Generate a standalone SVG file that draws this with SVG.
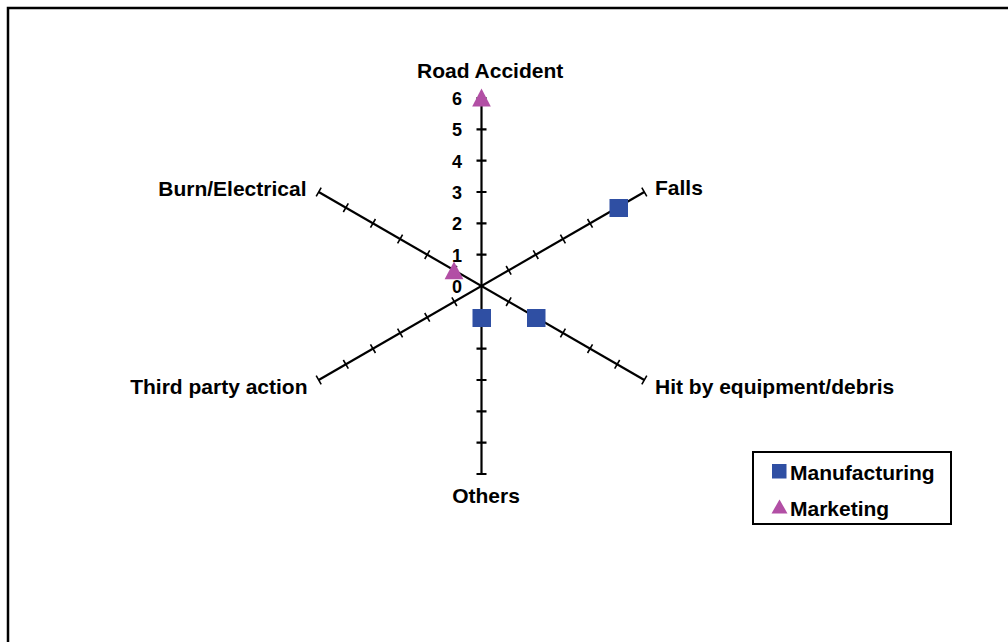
<svg xmlns="http://www.w3.org/2000/svg" width="1008" height="642" viewBox="0 0 1008 642">
<style>
.lbl{font-family:"Liberation Sans",Arial,sans-serif;font-weight:bold;font-size:21px;fill:#000}
.num{font-family:"Liberation Sans",Arial,sans-serif;font-weight:bold;font-size:18px;fill:#000;text-anchor:end}
.ax{stroke:#000;stroke-width:2.2;fill:none}
.tk{stroke:#000;stroke-width:1.6;fill:none}
.mfg{fill:#2F4FA3}
.mkt{fill:#B24FA5}
</style>
<rect x="0" y="0" width="1008" height="642" fill="#fff"/>
<rect x="8" y="8" width="1010" height="650" fill="none" stroke="#000" stroke-width="2.5"/>
<g id="axes">
<line class="ax" x1="481.5" y1="98" x2="481.5" y2="474"/>
<line class="ax" x1="318.69" y1="192" x2="644.31" y2="380"/>
<line class="ax" x1="318.69" y1="380" x2="644.31" y2="192"/>
</g>
<g id="ticks">
<path class="ax" d="M476.5 254.67h10M476.5 223.33h10M476.5 192h10M476.5 160.67h10M476.5 129.33h10M476.5 98h10M476.5 317.33h10M476.5 348.67h10M476.5 380h10M476.5 411.33h10M476.5 442.67h10M476.5 474h10"/>
<path class="tk" d="M506.14 266l5 8.66M533.27 250.34l5 8.66M560.41 234.67l5 8.66M587.54 219l5 8.66M614.68 203.34l5 8.66M641.81 187.67l5 8.66"/>
<path class="tk" d="M506.14 306l5 -8.66M533.27 321.66l5 -8.66M560.41 337.33l5 -8.66M587.54 353l5 -8.66M614.68 368.66l5 -8.66M641.81 384.33l5 -8.66"/>
<path class="tk" d="M451.86 297.34l5 8.66M424.73 313l5 8.66M397.59 328.67l5 8.66M370.46 344.34l5 8.66M343.32 360l5 8.66M316.19 375.67l5 8.66"/>
<path class="tk" d="M451.86 274.66l5 -8.66M424.73 259l5 -8.66M397.59 243.33l5 -8.66M370.46 227.66l5 -8.66M343.32 212l5 -8.66M316.19 196.33l5 -8.66"/>
</g>
<g id="scale">
<text class="num" x="462" y="105">6</text>
<text class="num" x="462" y="136.3">5</text>
<text class="num" x="462" y="167.7">4</text>
<text class="num" x="462" y="199">3</text>
<text class="num" x="462" y="230.3">2</text>
<text class="num" x="462" y="261.7">1</text>
<text class="num" x="462" y="293">0</text>
</g>
<g id="axis-labels">
<text class="lbl" id="road" x="417" y="78">Road Accident</text>
<text class="lbl" id="falls" x="655" y="195">Falls</text>
<text class="lbl" id="hit" x="655" y="393.5">Hit by equipment/debris</text>
<text class="lbl" id="others" x="486" y="503" text-anchor="middle">Others</text>
<text class="lbl" id="third" x="307.5" y="394" text-anchor="end">Third party action</text>
<text class="lbl" id="burn" x="306.5" y="196" text-anchor="end">Burn/Electrical</text>
</g>
<g id="series-manufacturing">
<rect class="mfg" x="609.5" y="199" width="18.5" height="18"/>
<rect class="mfg" x="527" y="309" width="18.5" height="18"/>
<rect class="mfg" x="472.5" y="309" width="18.5" height="18"/>
</g>
<g id="series-marketing">
<polygon class="mkt" points="481.5,88.5 472.2,106.5 490.8,106.5"/>
<polygon class="mkt" points="454,261.5 444.6,279.3 463.4,279.3"/>
</g>
<g id="legend">
<rect x="753" y="452" width="198" height="72" fill="#fff" stroke="#000" stroke-width="2"/>
<rect class="mfg" x="772" y="464" width="14.5" height="14.5"/>
<polygon class="mkt" points="779.5,499.5 771.5,513.5 787.5,513.5"/>
<text class="lbl" x="790" y="480">Manufacturing</text>
<text class="lbl" x="790" y="516">Marketing</text>
</g>
</svg>
